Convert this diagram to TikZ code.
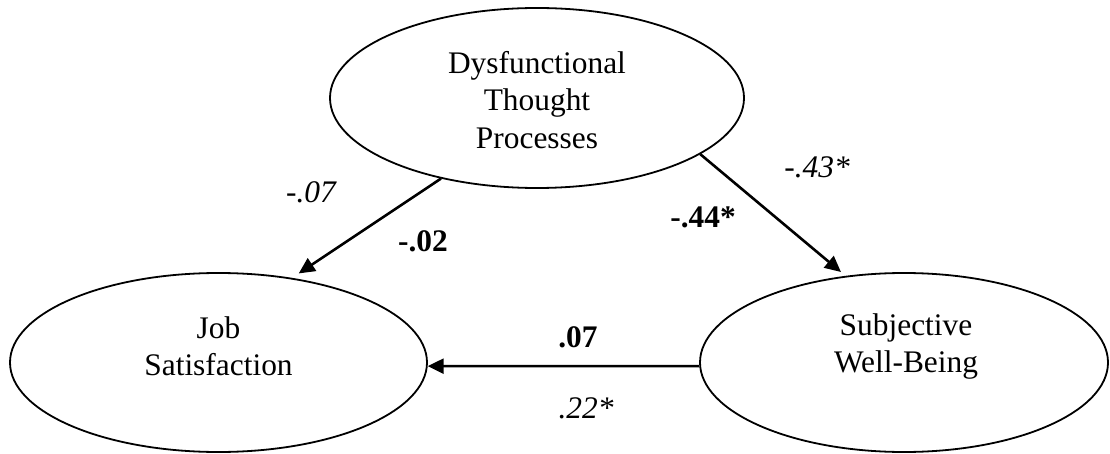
\documentclass[tikz,border=0pt]{standalone}
\usepackage{fontspec}
\setmainfont{Liberation Serif}
\usetikzlibrary{arrows.meta,shapes.geometric}
\begin{document}
\begin{tikzpicture}[x=1pt,y=-1pt,
  latent/.style={draw, ellipse, line width=1.8pt, inner sep=0pt},
  pathline/.style={line width=2.6pt, -{Triangle[length=16pt,width=15pt]}},
  txt/.style={align=center, inner sep=0pt, font=\fontsize{31.4}{37.5}\selectfont},
  coef/.style={inner sep=0pt, font=\fontsize{31.4}{37.5}\selectfont\bfseries},
  coefit/.style={inner sep=0pt, font=\fontsize{31.4}{37.5}\selectfont\itshape}]
\useasboundingbox (0,0) rectangle (1110,454);
% latent variables
\node[latent, minimum width=414pt, minimum height=180pt,
  label={[txt, yshift=-2pt]center:Dysfunctional\\Thought\\Processes}] (dtp) at (537,98) {};
\node[latent, minimum width=417pt, minimum height=179pt,
  label={[txt, yshift=16pt]center:Job\\Satisfaction}] (js) at (218.5,362.5) {};
\node[latent, minimum width=408pt, minimum height=179pt,
  label={[txt, yshift=16pt, xshift=2pt]center:Subjective\\Well-Being}] (swb) at (904,362.5) {};
% paths
\draw[pathline, shorten >=8pt] (dtp.220.1) -- (js.49.4);
\draw[pathline, shorten >=6pt] (dtp.341.4) -- (swb.124.2);
\draw[pathline] (swb.181.66) -- (js.-1.65);
% coefficients
\node[coefit] (c1) at (311,192) {-.07};
\node[coef]   (c2) at (423,241) {-.02};
\node[coef]   (c3) at (703,217) {-.44*};
\node[coefit] (c4) at (817,167) {-.43*};
\node[coef]   (c5) at (578,337) {.07};
\node[coefit] (c6) at (586,408) {.22*};
\end{tikzpicture}
\end{document}
